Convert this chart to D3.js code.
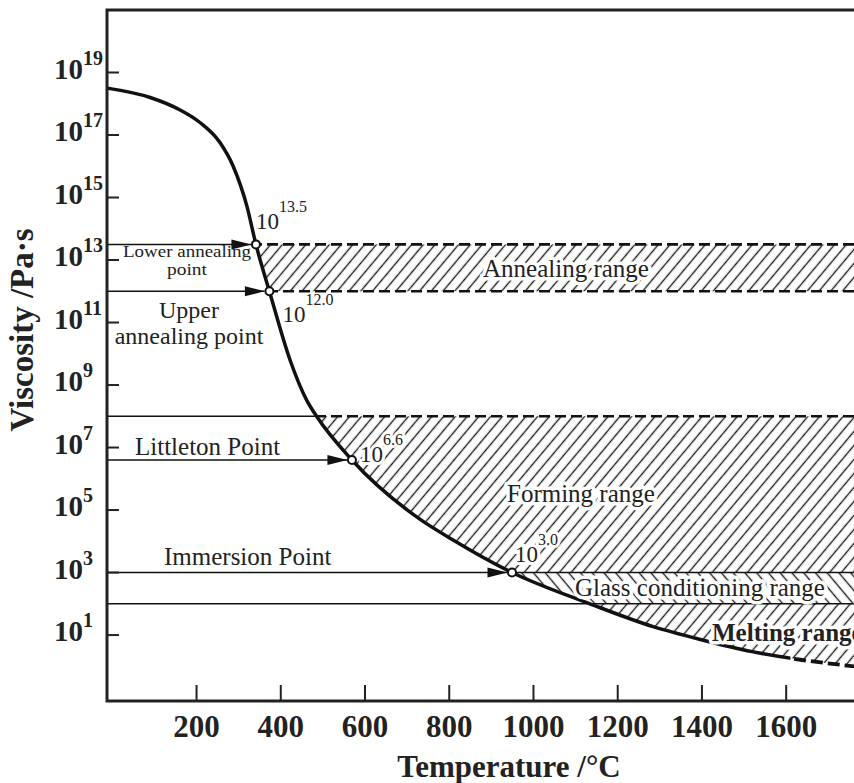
<!DOCTYPE html>
<html><head><meta charset="utf-8">
<script src="https://cdn.jsdelivr.net/npm/d3@7"></script>
<style>body{margin:0;background:#fff}svg{display:block}</style>
</head><body>
<svg id="c" width="854" height="783"></svg>
<script>
// ---- data ----
const curveT   = [-12, 90, 161, 208, 256, 287, 320, 341, 373, 422, 462, 485, 569, 731, 808, 949, 1134, 1284, 1396, 1519, 1634, 1761];
const curveLog = [18.5, 18.2, 17.8, 17.4, 16.75, 16.0, 14.7, 13.5, 12.0, 9.8, 8.5, 8.0, 6.6, 4.7, 4.05, 3.0, 2.0, 1.27, 0.86, 0.47, 0.21, 0.0];
const xTicks = [200, 400, 600, 800, 1000, 1200, 1400, 1600];
const yTickExp = [1, 3, 5, 7, 9, 11, 13, 15, 17, 19];
const pointLabels = ["13.5", "12.0", "6.6", "3.0"];
const pointT   = [341, 373, 569, 949];
const pointLog = [13.5, 12.0, 6.6, 3.0];
const pointNames = ["Lower annealing point", "Upper annealing point", "Littleton Point", "Immersion Point"];
const rangeNames = ["Annealing range", "Forming range", "Glass conditioning range", "Melting range"];
const rangeHi = [13.5, 8, 3, 2];
const rangeLo = [12, 3, 2, null];   // null = down to the curve
const formingTop = 8;
const meltingTop = 2;

// ---- scales ----
const svg = d3.select("#c");
const W = 854;
const x = d3.scaleLinear().domain([-12.6, 1761]).range([107, 854]);
const y = d3.scaleLinear().domain([-1.11, 21.0]).range([701, 10]);
const font = "'Liberation Serif','Times New Roman',serif";
const pts = curveT.map((t, i) => [t, curveLog[i]]);

const defs = svg.append("defs");
function hatch(id, angle) {
  const p = defs.append("pattern").attr("id", id).attr("patternUnits", "userSpaceOnUse")
    .attr("width", 9).attr("height", 9).attr("patternTransform", `rotate(${angle})`);
  p.append("line").attr("x1", 4.5).attr("y1", -2).attr("x2", 4.5).attr("y2", 11)
    .attr("stroke", "#1e1e1e").attr("stroke-width", 1.4);
}
hatch("hf", 40); hatch("hb", -40);

const areaAbove = d3.area().x(d => x(d[0])).y0(y(21)).y1(d => y(d[1])).curve(d3.curveMonotoneX);
const areaBelow = d3.area().x(d => x(d[0])).y0(d => y(d[1])).y1(y(-1.11)).curve(d3.curveMonotoneX);
defs.append("clipPath").attr("id", "above").append("path").attr("d", areaAbove(pts));
defs.append("clipPath").attr("id", "below").append("path").attr("d", areaBelow(pts));
const dashStart = 1610;
defs.append("clipPath").attr("id", "solidPart").append("rect")
  .attr("x", 0).attr("y", 0).attr("width", x(dashStart)).attr("height", 783);
defs.append("clipPath").attr("id", "dashPart").append("rect")
  .attr("x", x(dashStart)).attr("y", 0).attr("width", W - x(dashStart)).attr("height", 783);

// ---- hatched ranges ----
const gR = svg.append("g").attr("clip-path", "url(#above)");
rangeHi.forEach((hi, i) => {
  const lo = rangeLo[i] === null ? -1.11 : rangeLo[i];
  gR.append("rect").attr("x", x(-12.6)).attr("width", W - x(-12.6))
    .attr("y", y(hi)).attr("height", y(lo) - y(hi))
    .attr("fill", i === 2 ? "url(#hb)" : "url(#hf)");
});
// dashed range edges
[13.5, 12, formingTop].forEach(v => {
  gR.append("line").attr("x1", x(-12.6)).attr("x2", W).attr("y1", y(v)).attr("y2", y(v))
    .attr("stroke", "#111").attr("stroke-width", 2.6).attr("stroke-dasharray", "11,5");
});

// ---- thin reference lines ----
const thin = (x1, x2, yy, clip) => {
  const l = svg.append("line").attr("x1", x1).attr("x2", x2).attr("y1", yy).attr("y2", yy)
    .attr("stroke", "#111").attr("stroke-width", 1.5);
  if (clip) l.attr("clip-path", clip);
};
thin(x(-12.6), W, y(formingTop), "url(#below)");
thin(x(-12.6), W, y(meltingTop));
thin(x(-12.6), W, y(3.0));
pointT.forEach((t, i) => {
  if (i < 3) thin(x(-12.6), x(t) - 5, y(pointLog[i]));
});

// ---- curve ----
const line = d3.line().x(d => x(d[0])).y(d => y(d[1])).curve(d3.curveMonotoneX);
svg.append("path").attr("d", line(pts)).attr("fill", "none").attr("stroke", "#111")
  .attr("stroke-width", 3.5).attr("clip-path", "url(#solidPart)");
svg.append("path").attr("d", line(pts)).attr("fill", "none").attr("stroke", "#111")
  .attr("stroke-width", 3.8).attr("stroke-dasharray", "12,5").attr("clip-path", "url(#dashPart)");

// ---- arrows and points ----
pointT.forEach((t, i) => {
  const px = x(t), py = y(pointLog[i]), tip = px - 4.5;
  svg.append("path").attr("d", `M${tip},${py} L${tip - 20},${py - 5} L${tip - 20},${py + 5} Z`).attr("fill", "#111");
});
pointT.forEach((t, i) => {
  svg.append("circle").attr("cx", x(t)).attr("cy", y(pointLog[i])).attr("r", 4)
    .attr("fill", "#fff").attr("stroke", "#111").attr("stroke-width", 2);
});

// ---- frame & axes ----
svg.append("path").attr("d", `M${W},${y(21)} H${x(-12.6)} V${y(-1.11)} H${W}`)
  .attr("fill", "none").attr("stroke", "#222").attr("stroke-width", 3);
yTickExp.forEach(e => {
  svg.append("line").attr("x1", x(-12.6)).attr("x2", x(-12.6) + 12).attr("y1", y(e)).attr("y2", y(e))
    .attr("stroke", "#222").attr("stroke-width", 2);
  const t = svg.append("text").attr("x", 54).attr("y", y(e) + 6)
    .attr("font-family", font).attr("font-weight", "bold").attr("font-size", 29).attr("fill", "#222");
  t.append("tspan").text("10");
  t.append("tspan").attr("dy", -14).attr("font-size", 20).text(e);
});
xTicks.forEach(v => {
  svg.append("line").attr("x1", x(v)).attr("x2", x(v)).attr("y1", y(-1.11)).attr("y2", y(-1.11) - 16)
    .attr("stroke", "#222").attr("stroke-width", 2);
  svg.append("text").attr("x", x(v)).attr("y", 737).attr("text-anchor", "middle")
    .attr("font-family", font).attr("font-weight", "bold").attr("font-size", 31).attr("fill", "#222").text(v);
});
svg.append("text").attr("x", 509).attr("y", 777).attr("text-anchor", "middle")
  .attr("font-family", font).attr("font-weight", "bold").attr("font-size", 31).attr("fill", "#222")
  .text("Temperature /\u00B0C");
svg.append("text").attr("transform", "translate(33,330) rotate(-90)").attr("text-anchor", "middle")
  .attr("font-family", font).attr("font-weight", "bold").attr("font-size", 33).attr("fill", "#222")
  .text("Viscosity /Pa\u00B7s");

// ---- annotations ----
function txt(s, xx, yy, size, opts = {}) {
  const t = svg.append("text").attr("x", xx).attr("y", yy).attr("font-family", font)
    .attr("font-size", size).attr("fill", "#222").attr("text-anchor", opts.anchor || "start").text(s);
  if (opts.bold) t.attr("font-weight", "bold");
  if (opts.halo) t.attr("stroke", "#fff").attr("stroke-width", 7).attr("paint-order", "stroke")
    .attr("stroke-linejoin", "round");
  if (opts.len) t.attr("textLength", opts.len).attr("lengthAdjust", "spacingAndGlyphs");
  return t;
}
const powOff = [[0, -15], [13, 31], [8, 2], [3, -11]];
pointT.forEach((t, i) => {
  const px = x(t) + powOff[i][0], py = y(pointLog[i]) + powOff[i][1];
  const el = svg.append("text").attr("x", px).attr("y", py).attr("font-family", font)
    .attr("font-size", 23).attr("fill", "#222");
  if (i >= 2) el.attr("stroke", "#fff").attr("stroke-width", 6).attr("paint-order", "stroke");
  el.append("tspan").text("10");
  el.append("tspan").attr("dy", -17).attr("font-size", 16).text(pointLabels[i]);
});
txt("Lower annealing", 187, 257, 16, {anchor: "middle", len: 128});
txt("point", 187, 275, 16, {anchor: "middle", len: 40});
txt("Upper", 189, 318, 24, {anchor: "middle"});
txt("annealing point", 189, 344, 24, {anchor: "middle"});
txt(pointNames[2], 135, 455, 25);
txt(pointNames[3], 164, 565, 25);
txt(rangeNames[0], 566, 277, 25, {anchor: "middle", halo: true});
txt(rangeNames[1], 507, 502, 25, {halo: true});
txt(rangeNames[2], 575, 596, 25, {halo: true});
txt(rangeNames[3], 712, 641, 25, {bold: true, halo: true});
</script>
</body></html>
